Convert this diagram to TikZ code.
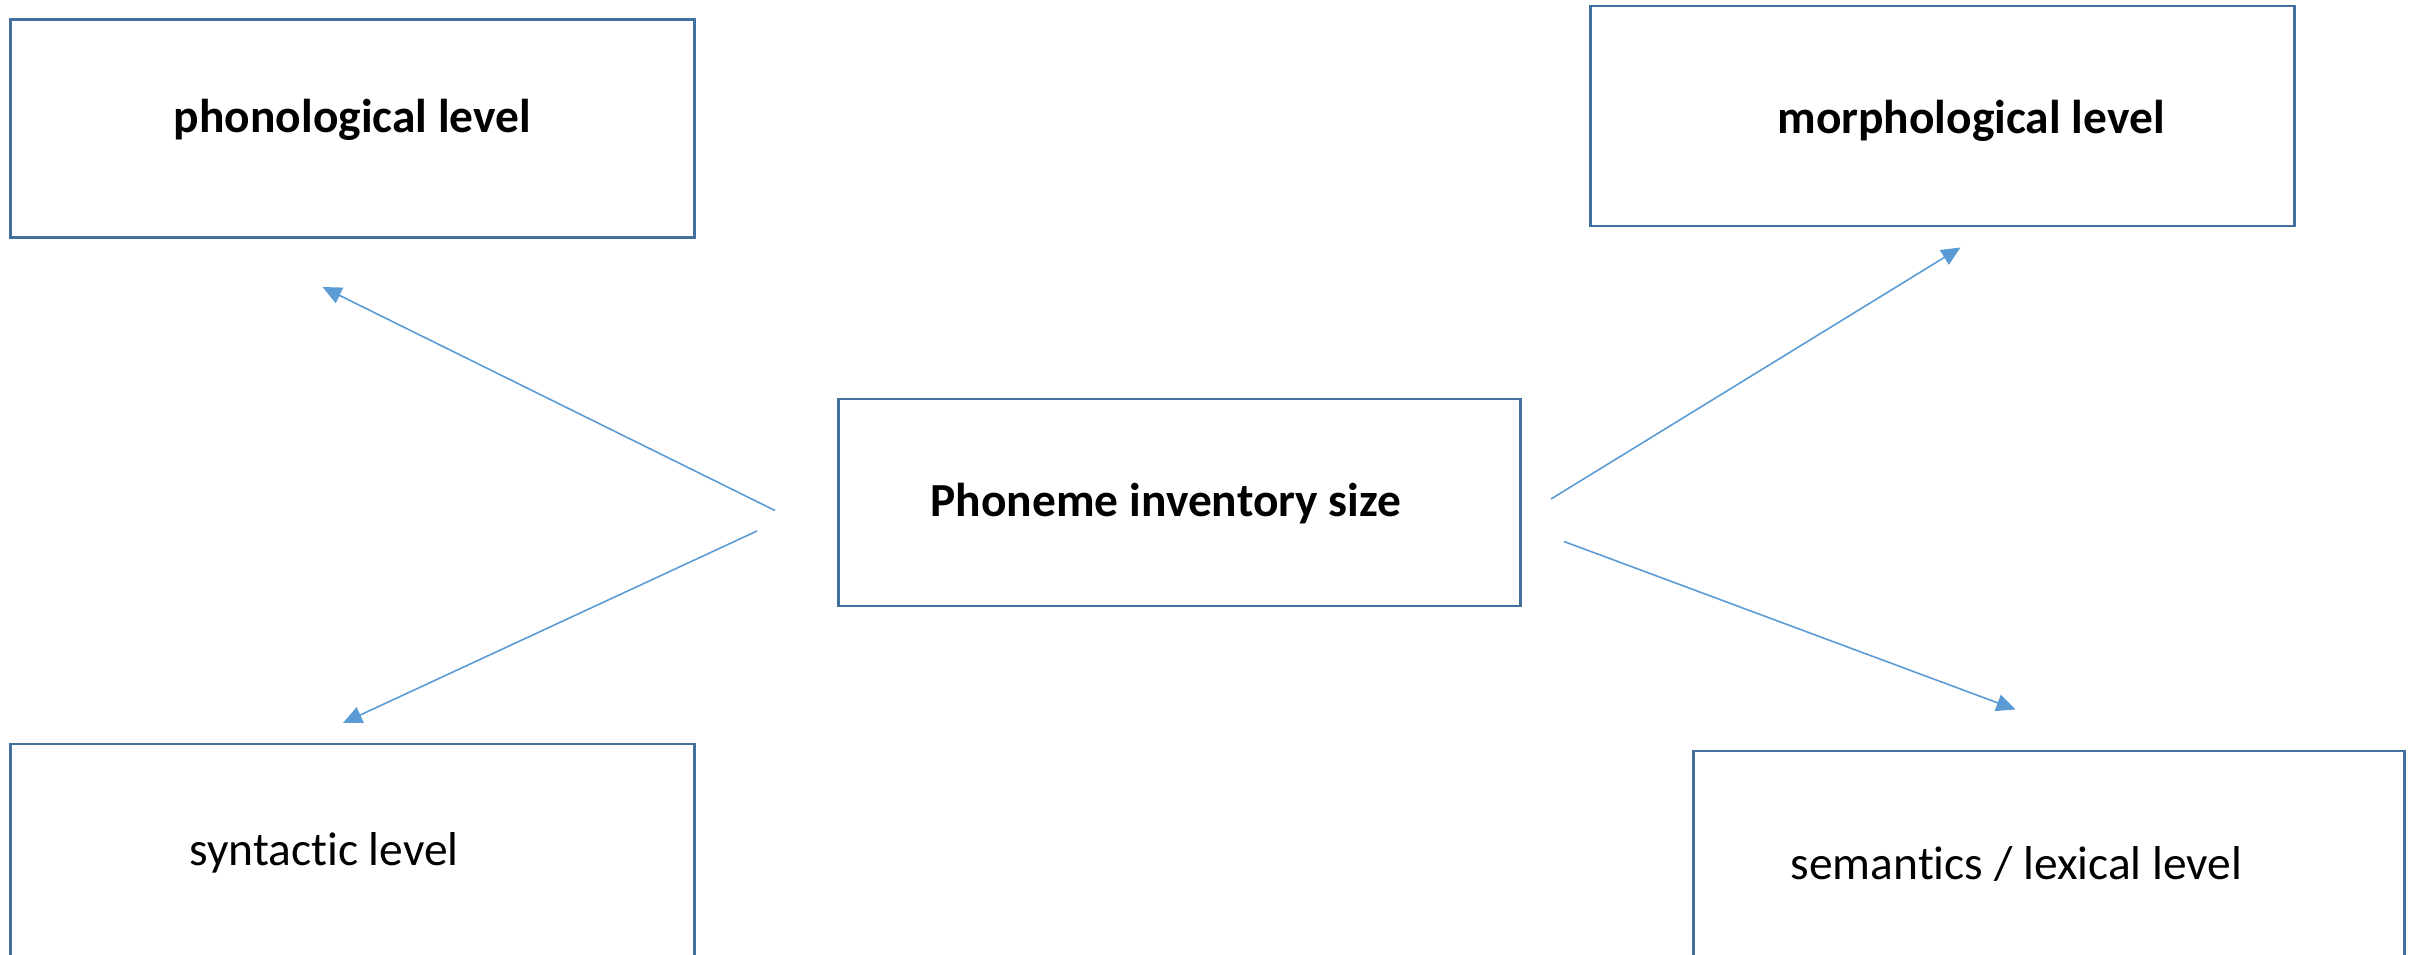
\documentclass[tikz,border=0pt]{standalone}
\usepackage{fontspec}
\setmainfont{Carlito}[Ligatures=NoCommon]
\usetikzlibrary{arrows.meta}
\definecolor{boxblue}{HTML}{41719C}
\definecolor{arrowblue}{HTML}{5B9BD5}
\tikzset{
  lvlbox/.style={draw=boxblue, line width=0.75pt, fill=none, inner sep=0pt},
  lbl/.style={anchor=base, inner sep=0pt, font=\fontsize{13.5pt}{16pt}\selectfont},
  lblb/.style={lbl, font=\fontsize{13.5pt}{16pt}\selectfont\bfseries},
  conn/.style={draw=arrowblue, line width=0.45pt,
    -{Triangle[length=0.19cm, width=0.17cm]}}
}
\begin{document}
\begin{tikzpicture}[x=0.01cm, y=-0.01cm]
\clip (0,0) rectangle (2415,955);
\fill[white] (0,0) rectangle (2415,955);
% boxes
\node[lvlbox, minimum width=6.838cm, minimum height=2.18cm] (phon) at (352.7,128.3) {};
\node[lvlbox, minimum width=7.03cm, minimum height=2.20cm] (morph) at (1942.5,116) {};
\node[lvlbox, minimum width=6.81cm, minimum height=2.07cm] (ctr) at (1179.5,502.5) {};
\node[lvlbox, minimum width=6.838cm, minimum height=2.80cm] (synt) at (352.7,884) {};
\node[lvlbox, minimum width=7.10cm, minimum height=2.80cm] (sem) at (2049,891) {};
% labels
\node[lblb] (tphon) at (352.5,132.5) {phonological level};
\node[lblb] (tmorph) at (1971,133.5) {morphological level};
\node[lblb] (tctr) at (1166,517) {Phoneme inventory size};
\node[lbl] (tsynt) at (324,865.5) {syntactic level};
\node[lbl] (tsem) at (2016.5,879) {semantics / lexical level};
% connector end points
\coordinate (sPhon) at (775,510.5);
\coordinate (ePhon) at (322.5,287);
\coordinate (sSynt) at (757,531);
\coordinate (eSynt) at (343,723);
\coordinate (sMorph) at (1551,499);
\coordinate (eMorph) at (1960.5,247.5);
\coordinate (sSem) at (1564,541.5);
\coordinate (eSem) at (2015.5,709.5);
\draw[conn] (sPhon) -- (ePhon);
\draw[conn] (sSynt) -- (eSynt);
\draw[conn] (sMorph) -- (eMorph);
\draw[conn] (sSem) -- (eSem);
\end{tikzpicture}
\end{document}
